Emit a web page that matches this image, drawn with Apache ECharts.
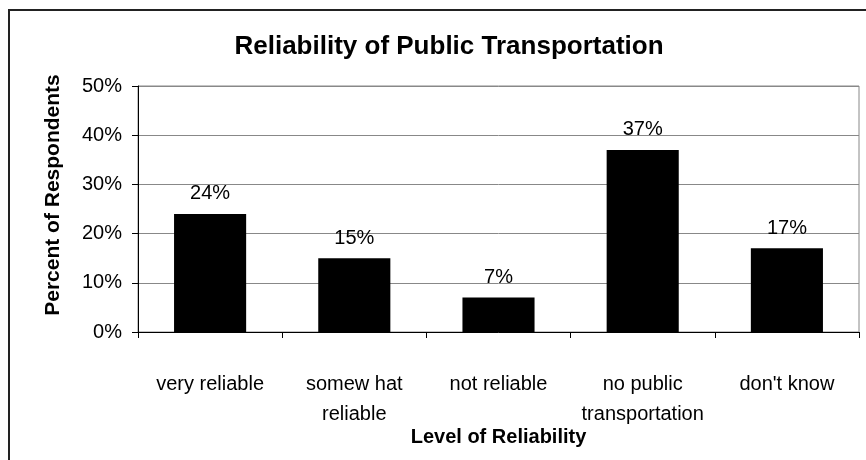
<!DOCTYPE html>
<html>
<head>
<meta charset="utf-8">
<script src="https://cdn.jsdelivr.net/npm/echarts@6/dist/echarts.min.js"></script>
<style>
html,body{margin:0;padding:0;background:#fff;}
#c{width:866px;height:460px;}
</style>
</head>
<body>
<div id="c"></div>
<script>
const categories = ['very reliable', 'somew hat\nreliable', 'not reliable', 'no public\ntransportation', "don't know"];
const values = [24, 15, 7, 37, 17];
const yTicks = [0, 10, 20, 30, 40, 50];

const chart = echarts.init(document.getElementById('c'), null, {renderer: 'canvas'});
const font = 'Liberation Sans, Arial, sans-serif';
chart.setOption({
  animation: false,
  backgroundColor: '#fff',
  title: {
    text: 'Reliability of Public Transportation',
    left: 444, top: 29, textAlign: 'center',
    textStyle: {fontFamily: font, fontSize: 26, fontWeight: 'bold', color: '#000'}
  },
  graphic: [{
    type: 'rect', shape: {x: 9, y: 10, width: 900, height: 500},
    style: {fill: 'none', stroke: '#222', lineWidth: 2}, silent: true, z: 100
  }, {
    type: 'rect', shape: {x: 138, y: 86, width: 721, height: 246},
    style: {fill: 'none', stroke: '#888', lineWidth: 1}, silent: true, z: 0
  }],
  grid: {left: 138, top: 86, width: 721, height: 246, containLabel: false},
  xAxis: {
    type: 'category', data: categories,
    name: 'Level of Reliability', nameLocation: 'middle', nameGap: 95, nameMoveOverlap: false,
    nameTextStyle: {fontFamily: font, fontSize: 20, fontWeight: 'bold', color: '#000'},
    axisLine: {show: true, lineStyle: {color: '#000', width: 1}},
    axisTick: {show: true, length: 6, alignWithLabel: false, lineStyle: {color: '#000'}},
    axisLabel: {fontFamily: font, fontSize: 20, color: '#000', margin: 37, lineHeight: 30, interval: 0}
  },
  yAxis: {
    type: 'value', min: yTicks[0], max: yTicks[yTicks.length - 1], interval: 10,
    name: 'Percent of Respondents', nameLocation: 'middle', nameGap: 74, nameRotate: 90,
    nameTextStyle: {fontFamily: font, fontSize: 21, fontWeight: 'bold', color: '#000', padding: [0, 0, 0, 28]},
    axisLine: {show: true, lineStyle: {color: '#000', width: 1}},
    axisTick: {show: true, length: 6, lineStyle: {color: '#000'}},
    axisLabel: {fontFamily: font, fontSize: 20, color: '#000', margin: 16, formatter: '{value}%'},
    splitLine: {show: true, lineStyle: {color: '#888', width: 1}}
  },
  series: [{
    type: 'bar', data: values, barWidth: '50%',
    itemStyle: {color: '#000'},
    label: {show: true, position: 'top', distance: 10, formatter: '{c}%',
      fontFamily: font, fontSize: 20, color: '#000'}
  }]
});
</script>
</body>
</html>
